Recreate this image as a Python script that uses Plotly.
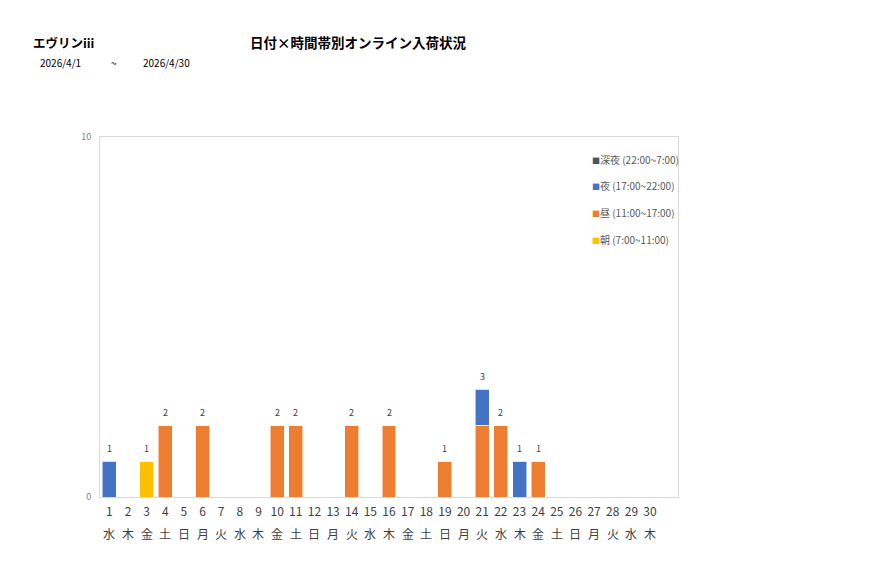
import plotly.graph_objects as go

# ---------------------------------------------------------------------------
# Data
# ---------------------------------------------------------------------------
days = list(range(1, 31))
weekdays = [
    "水", "木", "金", "土", "日", "月", "火", "水", "木", "金",
    "土", "日", "月", "火", "水", "木", "金", "土", "日", "月",
    "火", "水", "木", "金", "土", "日", "月", "火", "水", "木",
]

asa = [0, 0, 1, 0, 0, 0, 0, 0, 0, 0, 0, 0, 0, 0, 0, 0, 0, 0, 0, 0, 0, 0, 0, 0, 0, 0, 0, 0, 0, 0]
hiru = [0, 0, 0, 2, 0, 2, 0, 0, 0, 2, 2, 0, 0, 2, 0, 2, 0, 0, 1, 0, 2, 2, 0, 1, 0, 0, 0, 0, 0, 0]
yoru = [1, 0, 0, 0, 0, 0, 0, 0, 0, 0, 0, 0, 0, 0, 0, 0, 0, 0, 0, 0, 1, 0, 1, 0, 0, 0, 0, 0, 0, 0]
shinya = [0] * 30

series = [
    ("朝 (7:00~11:00)", asa, "#FFC000"),
    ("昼 (11:00~17:00)", hiru, "#ED7D31"),
    ("夜 (17:00~22:00)", yoru, "#4472C4"),
    ("深夜 (22:00~7:00)", shinya, "#44546A"),
]

FONT = "Noto Sans CJK JP"

# page offset (body margin) -> work in screen pixels, convert below
OFF = 8
W, H = 877 - OFF, 578 - OFF
L, R, T, B = 100 - OFF, 199, 137 - OFF, 81
pw, ph = W - L - R, H - T - B


def px_to_paper(sx, sy):
    return (sx - OFF - L) / pw, (H - B - (sy - OFF)) / ph


x_cats = [str(d) for d in days]
totals = [a + b + c + d for a, b, c, d in zip(asa, hiru, yoru, shinya)]

fig = go.Figure()

for name, vals, color in series:
    fig.add_trace(
        go.Bar(
            x=x_cats,
            y=vals,
            name=name,
            showlegend=False,
            marker=dict(color=color, line=dict(width=1, color="rgba(255,255,255,0.55)")),
            hoverinfo="skip",
        )
    )

# total labels above stacks (category axis: annotation x is the category index)
for i, t in enumerate(totals):
    if t > 0:
        fig.add_annotation(
            x=i, y=t, text=str(t), showarrow=False, yanchor="middle", yshift=13,
            font=dict(size=9, color="#404040", family=FONT),
        )

# weekday row under the day numbers
wy = px_to_paper(0, 533)[1]
for i, w in enumerate(weekdays):
    fig.add_annotation(
        x=i, y=wy, yref="paper", text=w, showarrow=False, yanchor="middle",
        font=dict(size=12, color="#404040", family=FONT),
    )

# Excel-style legend (top to bottom: 深夜, 夜, 昼, 朝)
for i, (name, _, color) in enumerate(reversed(series)):
    lx, ly = px_to_paper(590, 159 + i * 26.7)
    fig.add_annotation(
        x=lx, y=ly, xref="paper", yref="paper", showarrow=False,
        xanchor="left", yanchor="middle",
        text=f"<span style='color:{color};font-size:8px'>■</span>{name}",
        font=dict(size=10, color="#595959", family=FONT),
    )

fig.update_layout(
    barmode="stack",
    bargap=0.25,
    width=W,
    height=H,
    paper_bgcolor="white",
    plot_bgcolor="white",
    font=dict(family=FONT, color="#404040"),
    margin=dict(l=L, r=R, t=T, b=B, autoexpand=False),
    showlegend=False,
    xaxis=dict(
        type="category",
        range=[-0.5, len(days) + 0.5],  # room for a 31st (empty) slot, as in the source
        showgrid=False,
        showline=True,
        linecolor="#D9D9D9",
        mirror=True,
        ticks="",
        ticklabelstandoff=4,
        tickfont=dict(size=12, color="#404040", family=FONT),
    ),
    yaxis=dict(
        range=[0, 10],
        tickvals=[0, 10],
        showgrid=False,
        zeroline=False,
        showline=True,
        linecolor="#D9D9D9",
        mirror=True,
        ticks="",
        ticklabelstandoff=6,
        tickfont=dict(size=9, color="#7F7F7F", family=FONT),
    ),
)

# header texts, screen positions
headers = [
    ("<b>エヴリンiii</b>", 31, 42, 12.5),
    ("<b>日付×時間帯別オンライン入荷状況</b>", 248, 42, 13.5),
    ("2026/4/1", 38, 62, 10),
    ("~", 109, 62, 10),
    ("2026/4/30", 141, 62, 10),
]
for txt, sx, sy, fs in headers:
    ax, ay = px_to_paper(sx, sy)
    fig.add_annotation(
        text=txt, x=ax, y=ay, xref="paper", yref="paper", showarrow=False,
        xanchor="left", yanchor="middle",
        font=dict(size=fs, color="#000000", family=FONT),
    )

fig.write_html("out.html")
